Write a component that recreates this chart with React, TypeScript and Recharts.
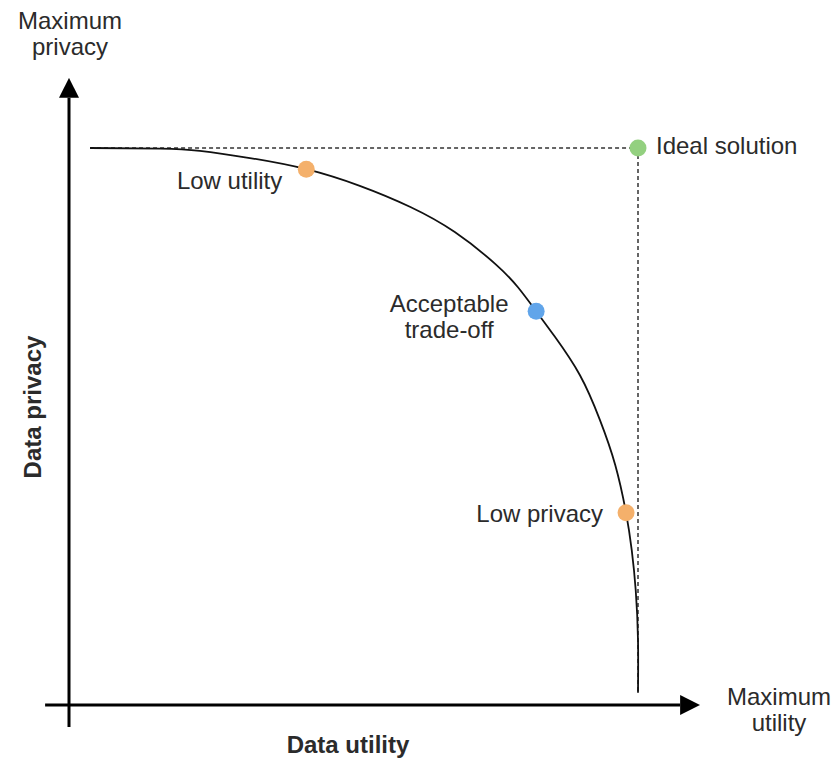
import React from 'react'
import {
  ComposedChart,
  Line,
  Scatter,
  XAxis,
  YAxis,
  ReferenceLine
} from 'recharts'

// trade-off frontier (utility 0-100, privacy 0-100)
const frontierUtility = [3.7, 16.0, 23.0, 31.8, 41.7, 51.1, 60.0, 67.8, 74.9, 78.9, 82.1, 85.4, 89.8, 93.3, 96.0, 97.9, 98.9, 99.6, 100, 100]
const frontierPrivacy = [100, 99.9, 99.5, 98.2, 96.2, 93.2, 89.4, 84.9, 79.2, 75.0, 70.7, 66.1, 59.2, 51.2, 43.1, 34.5, 27.8, 20.6, 11.7, 2.2]

const pointNames = ['Low utility', 'Acceptable trade-off', 'Low privacy', 'Ideal solution']
const pointUtility = [41.7, 82.1, 97.9, 100]
const pointPrivacy = [96.2, 70.7, 34.5, 100]

const frontier = frontierUtility.map((u, i) => ({ u, p: frontierPrivacy[i] }))
const points = pointNames.map((name, i) => ({ name, u: pointUtility[i], p: pointPrivacy[i] }))

const TEXT = '#2b2b2b'
const FONT = '"Liberation Sans", Arial, Helvetica, sans-serif'

const pointStyle: Record<string, { color: string; anchor: 'start' | 'middle' | 'end'; dx: number; dy: number }> = {
  'Low utility': { color: '#F4B06B', anchor: 'end', dx: -24, dy: 14 },
  'Acceptable trade-off': { color: '#61A5EA', anchor: 'middle', dx: -87, dy: -5 },
  'Low privacy': { color: '#F4B06B', anchor: 'end', dx: -23, dy: 3 },
  'Ideal solution': { color: '#93D07F', anchor: 'start', dx: 18, dy: 0 }
}

const PointShape = (props: any) => {
  const { cx, cy, payload } = props
  const s = pointStyle[payload.name]
  const words = payload.name === 'Acceptable trade-off' ? ['Acceptable', 'trade-off'] : [payload.name]
  return (
    <g>
      <circle cx={cx} cy={cy} r={8.5} fill={s.color} />
      <text
        x={cx + s.dx}
        y={cy + s.dy}
        textAnchor={s.anchor}
        dominantBaseline="middle"
        fill={TEXT}
        fontSize={24}
        fontFamily={FONT}
      >
        {words.map((w, i) => (
          <tspan key={w} x={cx + s.dx} dy={i === 0 ? 0 : 26}>
            {w}
          </tspan>
        ))}
      </text>
    </g>
  )
}

const label = (style: React.CSSProperties, text: React.ReactNode) => (
  <div
    style={{
      position: 'absolute',
      fontFamily: FONT,
      fontSize: 24,
      color: TEXT,
      lineHeight: '26px',
      textAlign: 'center',
      whiteSpace: 'nowrap',
      ...style
    }}
  >
    {text}
  </div>
)

export default function App() {
  return (
    <div style={{ position: 'absolute', left: 0, top: 0, width: 834, height: 758, background: '#fff' }}>
      <ComposedChart
        width={834}
        height={758}
        margin={{ top: 148, right: 196, bottom: 53, left: 69 }}
      >
        <defs>
          <marker
            id="arrow"
            viewBox="0 0 20 20"
            refX={0}
            refY={10}
            markerWidth={20}
            markerHeight={20}
            markerUnits="userSpaceOnUse"
            orient="auto"
          >
            <path d="M0,0 L20,10 L0,20 z" fill="#000" />
          </marker>
        </defs>
        <XAxis type="number" dataKey="u" domain={[0, 100]} hide />
        <YAxis type="number" dataKey="p" domain={[0, 100]} hide />

        {/* axes with arrows */}
        <ReferenceLine
          segment={[{ x: 0, y: -3.95 }, { x: 0, y: 109 }]}
          stroke="#000"
          strokeWidth={3}
          ifOverflow="visible"
          markerEnd="url(#arrow)"
        />
        <ReferenceLine
          segment={[{ x: -4.2, y: 0 }, { x: 107.4, y: 0 }]}
          stroke="#000"
          strokeWidth={3}
          ifOverflow="visible"
          markerEnd="url(#arrow)"
        />

        {/* dashed guides to the ideal solution */}
        <ReferenceLine
          segment={[{ x: 3.7, y: 100 }, { x: 100, y: 100 }]}
          stroke="#333"
          strokeWidth={1.5}
          strokeDasharray="4 3"
          ifOverflow="visible"
        />
        <ReferenceLine
          segment={[{ x: 100, y: 100 }, { x: 100, y: 2.2 }]}
          stroke="#333"
          strokeWidth={1.5}
          strokeDasharray="4 3"
          ifOverflow="visible"
        />

        <Line
          data={frontier}
          dataKey="p"
          type="natural"
          stroke="#111"
          strokeWidth={1.8}
          dot={false}
          activeDot={false}
          isAnimationActive={false}
        />
        <Scatter data={points} shape={PointShape} isAnimationActive={false} />
      </ComposedChart>

      {label({ left: 0, width: 140, top: 8 }, <>Maximum<br />privacy</>)}
      {label({ left: 712, width: 134, top: 684 }, <>Maximum<br />utility</>)}
      {label({ left: 248, width: 200, top: 732, fontWeight: 'bold' }, 'Data utility')}
      {label(
        {
          left: -67,
          width: 200,
          top: 394,
          fontWeight: 'bold',
          transform: 'rotate(-90deg)'
        },
        'Data privacy'
      )}
    </div>
  )
}
